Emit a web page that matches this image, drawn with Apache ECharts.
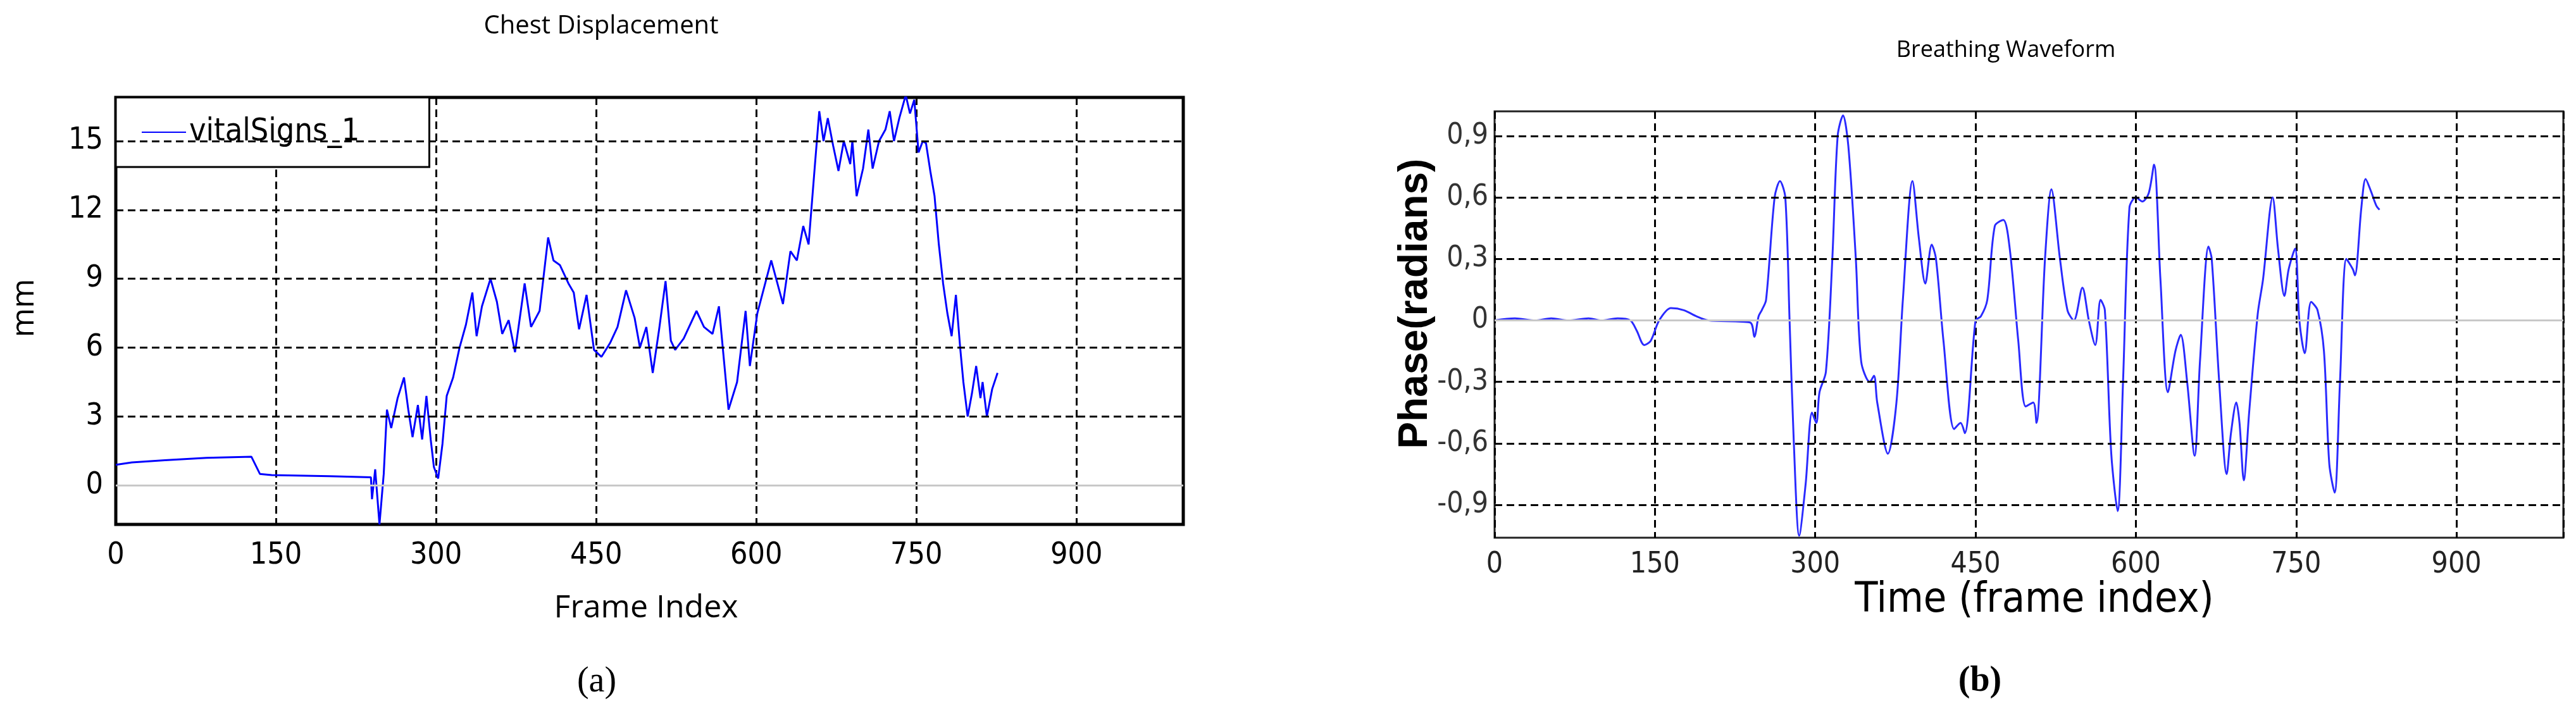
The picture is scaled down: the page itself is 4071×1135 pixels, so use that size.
<!DOCTYPE html>
<html>
<head>
<meta charset="utf-8">
<script src="https://cdn.jsdelivr.net/npm/echarts@6/dist/echarts.min.js"></script>
<style>
  html, body { margin: 0; padding: 0; background: #fff; }
  #main { width: 4071px; height: 1135px; }
</style>
</head>
<body>
<div id="main"></div>
<script>
// (a) chest displacement, [frame, mm]
const chestData = [
  [0, 0.9], [15, 1.0], [46, 1.1], [85, 1.2], [127, 1.25], [135, 0.5], [146, 0.45], [200, 0.4],
  [239, 0.35], [240, -0.6], [243, 0.7], [245, -0.5], [247, -1.7], [251, 0.5],
  [254, 3.3], [258, 2.5], [264, 3.8], [270, 4.7], [274, 3.3], [278, 2.1], [283, 3.5], [287, 2.0],
  [291, 3.9], [295, 2.0], [298, 0.8], [302, 0.3], [306, 1.8], [310, 3.9], [316, 4.7], [322, 6.0],
  [328, 7.0], [334, 8.4], [338, 6.5], [343, 7.8], [351, 9.0], [357, 8.0], [362, 6.6], [368, 7.2],
  [374, 5.8], [383, 8.8], [389, 6.9], [397, 7.6], [405, 10.8], [410, 9.8], [416, 9.6], [424, 8.8],
  [429, 8.4], [434, 6.8], [441, 8.3], [448, 5.9], [455, 5.6], [463, 6.2], [470, 6.9], [478, 8.5],
  [486, 7.3], [491, 6.0], [497, 6.9], [503, 4.9], [509, 6.8], [515, 8.9], [520, 6.3], [524, 5.9],
  [532, 6.4], [544, 7.6], [551, 6.9], [559, 6.6], [565, 7.8], [570, 5.3], [574, 3.3], [582, 4.5],
  [590, 7.6], [594, 5.2], [601, 7.5], [614, 9.8], [625, 7.9], [632, 10.2], [638, 9.8], [644, 11.3],
  [649, 10.5], [655, 14.0], [659, 16.3], [663, 15.0], [667, 16.0], [672, 14.8], [677, 13.7],
  [682, 15.0], [688, 14.0], [690, 15.0], [694, 12.6], [700, 13.8], [705, 15.5], [709, 13.8],
  [715, 15.0], [721, 15.5], [725, 16.3], [729, 15.0], [734, 16.0], [740, 17.0], [744, 16.2],
  [748, 16.8], [752, 14.5], [756, 15.0], [759, 14.9], [763, 13.7], [767, 12.6], [771, 10.5],
  [775, 8.8], [779, 7.5], [783, 6.5], [787, 8.3], [791, 6.0], [794, 4.5], [798, 3.0], [802, 4.0],
  [806, 5.2], [810, 3.8], [812, 4.5], [816, 3.0], [821, 4.2], [826, 4.9]
];

// (b) breathing waveform, [frame, radians]
const breathData = [
  [0, 0], [19, 0.01], [38, 0], [53, 0.01], [69, 0], [88, 0.01], [100, 0], [115, 0.01], [127, 0],
  [133, -0.05], [140, -0.12], [146, -0.1], [154, 0], [165, 0.06], [177, 0.05], [189, 0.02],
  [200, 0.0], [239, -0.01], [243, -0.08], [247, 0.02], [250, 0.05], [254, 0.1], [262, 0.6],
  [267, 0.68], [272, 0.6], [276, 0.0], [280, -0.6], [285, -1.05], [291, -0.8], [297, -0.45],
  [301, -0.5], [304, -0.35], [310, -0.25], [316, 0.3], [321, 0.9], [326, 1.0], [331, 0.85],
  [338, 0.3], [343, -0.2], [351, -0.3], [355, -0.27], [358, -0.4], [368, -0.65], [376, -0.4],
  [382, 0.1], [391, 0.68], [397, 0.4], [403, 0.18], [409, 0.37], [413, 0.3], [420, -0.1],
  [430, -0.53], [436, -0.5], [440, -0.55], [450, 0.0], [455, 0.02], [461, 0.1], [468, 0.46],
  [476, 0.49], [482, 0.35], [490, -0.1], [497, -0.42], [504, -0.4], [507, -0.5], [515, 0.3],
  [521, 0.64], [529, 0.3], [536, 0.05], [542, 0.0], [550, 0.16], [556, 0.0], [562, -0.12],
  [567, 0.1], [571, 0.05], [577, -0.65], [583, -0.93], [588, -0.3], [594, 0.55], [600, 0.6],
  [606, 0.58], [612, 0.62], [617, 0.76], [623, 0.2], [630, -0.35], [637, -0.15], [642, -0.07],
  [648, -0.3], [655, -0.66], [660, -0.2], [668, 0.36], [671, 0.3], [678, -0.3], [685, -0.75],
  [689, -0.55], [694, -0.4], [697, -0.5], [701, -0.78], [706, -0.45], [714, 0.03], [719, 0.2],
  [728, 0.6], [733, 0.35], [739, 0.12], [743, 0.25], [749, 0.35], [753, 0.0], [758, -0.16],
  [764, 0.09], [770, 0.05], [776, -0.15], [781, -0.7], [786, -0.84], [791, -0.3], [797, 0.3],
  [803, 0.25], [805, 0.22], [811, 0.55], [815, 0.69], [820, 0.63], [825, 0.56], [828, 0.54]
];

const chestTicks = [0, 3, 6, 9, 12, 15];
const breathTicks = [-0.9, -0.6, -0.3, 0, 0.3, 0.6, 0.9];

const narrow = '"DejaVu Sans Condensed", Roboto, "Liberation Sans", sans-serif';
const dashLine = { color: '#000', type: [12, 7], width: 3 };
const zeroLine = { color: '#c8c8c8', type: 'solid', width: 3 };

function fmtBreath(v) {
  if (Math.abs(v) < 1e-6) return '0';
  return (v < 0 ? '-' : '') + Math.abs(v).toFixed(1).replace('.', ',');
}

// horizontal grid lines with their tick labels, drawn as markLines at the tick values
function tickLines(ticks, fmt, labelStyle) {
  return {
    silent: true, symbol: 'none', animation: false,
    label: Object.assign({ show: true, position: 'start', formatter: p => fmt(p.value) }, labelStyle),
    data: ticks.map(t => ({ yAxis: t, lineStyle: t === 0 ? zeroLine : dashLine }))
  };
}

const chart = echarts.init(document.getElementById('main'));

chart.setOption({
  animation: false,
  backgroundColor: '#fff',
  grid: [
    { left: 183, right: 4071 - 1870, top: 154, bottom: 1135 - 829, show: true,
      borderColor: '#000', borderWidth: 5, backgroundColor: '#fff' },
    { left: 2362, right: 4071 - 4051, top: 176, bottom: 1135 - 850, show: true,
      borderColor: '#222', borderWidth: 3, backgroundColor: '#fff' }
  ],
  xAxis: [
    { type: 'value', gridIndex: 0, min: 0, max: 1000, interval: 150,
      axisLine: { show: false }, axisTick: { show: false },
      splitLine: { show: true, lineStyle: dashLine },
      axisLabel: { fontFamily: narrow, fontSize: 48, color: '#000', margin: 26,
        formatter: v => (v < 1000 ? String(v) : '') } },
    { type: 'value', gridIndex: 1, min: 0, max: 1000, interval: 150,
      axisLine: { show: false }, axisTick: { show: false },
      splitLine: { show: true, lineStyle: dashLine },
      axisLabel: { fontFamily: narrow, fontSize: 46, color: '#222', margin: 20,
        formatter: v => (v < 1000 ? String(v) : '') } }
  ],
  yAxis: [
    { type: 'value', gridIndex: 0, min: -1.7, max: 16.9,
      axisLine: { show: false }, axisTick: { show: false },
      splitLine: { show: false }, axisLabel: { show: false } },
    { type: 'value', gridIndex: 1, min: -1.06, max: 1.02,
      axisLine: { show: false }, axisTick: { show: false },
      splitLine: { show: false }, axisLabel: { show: false } }
  ],
  legend: {
    data: ['vitalSigns_1'], left: 183, top: 154, orient: 'vertical',
    padding: [30, 110, 30, 40], itemWidth: 70, itemHeight: 20, itemGap: 0,
    borderColor: '#000', borderWidth: 3, backgroundColor: '#fff',
    textStyle: { fontFamily: narrow, fontSize: 50, color: '#000' },
    itemStyle: { opacity: 0 }
  },
  graphic: [
    { type: 'text', x: 950, y: 42, style: { text: 'Chest Displacement', align: 'center',
      verticalAlign: 'middle', font: '40px "Open Sans", sans-serif', fill: '#000' } },
    { type: 'text', x: 1021, y: 962, style: { text: 'Frame Index', align: 'center',
      verticalAlign: 'middle', font: '50px "Open Sans", sans-serif', fill: '#000' } },
    { type: 'text', x: 39, y: 487, rotation: Math.PI / 2, style: { text: 'mm', align: 'center',
      verticalAlign: 'middle', font: '50px "Open Sans", sans-serif', fill: '#000' } },
    { type: 'text', x: 943, y: 1078, style: { text: '(a)', align: 'center', verticalAlign: 'middle',
      font: '56px "Liberation Serif", serif', fill: '#000' } },
    { type: 'text', x: 3170, y: 80, style: { text: 'Breathing Waveform', align: 'center',
      verticalAlign: 'middle', font: '36px "Open Sans", sans-serif', fill: '#000' } },
    { type: 'text', x: 3215, y: 950, style: { text: 'Time (frame index)', align: 'center',
      verticalAlign: 'middle', font: '66px ' + narrow, fill: '#000' } },
    { type: 'text', x: 2237, y: 480, rotation: Math.PI / 2, style: { text: 'Phase(radians)',
      align: 'center', verticalAlign: 'middle', font: 'bold 64px "Liberation Sans", Arial, sans-serif',
      fill: '#000' } },
    { type: 'text', x: 3129, y: 1078, style: { text: '(b)', align: 'center', verticalAlign: 'middle',
      font: 'bold 56px "Liberation Serif", serif', fill: '#000' } }
  ],
  series: [
    { name: 'vitalSigns_1', type: 'line', xAxisIndex: 0, yAxisIndex: 0, data: chestData,
      showSymbol: false, symbol: 'none', lineStyle: { color: '#0000ff', width: 3 },
      itemStyle: { color: '#0000ff' }, z: 3,
      markLine: tickLines(chestTicks, v => String(v),
        { fontFamily: narrow, fontSize: 48, color: '#000', distance: 20 }) },
    { name: 'breath', type: 'line', xAxisIndex: 1, yAxisIndex: 1, data: breathData,
      showSymbol: false, symbol: 'none', smooth: 0.3,
      lineStyle: { color: '#2a2aff', width: 3 }, z: 3,
      markLine: tickLines(breathTicks, fmtBreath,
        { fontFamily: narrow, fontSize: 46, color: '#333', distance: 10 }) }
  ]
});
</script>
</body>
</html>
